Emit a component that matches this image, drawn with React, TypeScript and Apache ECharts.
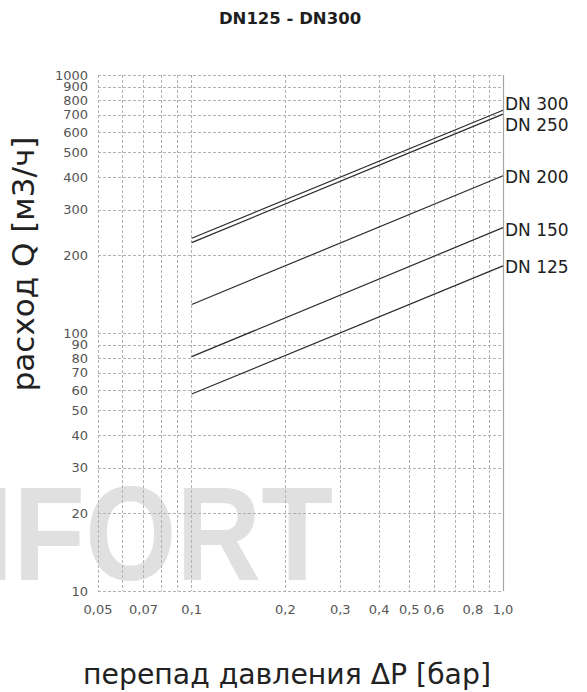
import React, { useEffect, useRef } from "react";
import * as echarts from "echarts";

// ---- data ----
const seriesNames = ["DN 300", "DN 250", "DN 200", "DN 150", "DN 125"];
const pressureDrop = [0.1, 1.0];
const flowDN300 = [233, 730];
const flowDN250 = [224, 705];
const flowDN200 = [129, 407];
const flowDN150 = [81, 256];
const flowDN125 = [58, 182];
const allFlows = [flowDN300, flowDN250, flowDN200, flowDN150, flowDN125];

const xGridValues = [0.05, 0.06, 0.07, 0.08, 0.09, 0.1, 0.2, 0.3, 0.4, 0.5, 0.6, 0.7, 0.8, 0.9, 1.0];
const xTickValues = [0.05, 0.07, 0.1, 0.2, 0.3, 0.4, 0.5, 0.6, 0.8, 1.0];
const xTickLabels = ["0,05", "0,07", "0,1", "0,2", "0,3", "0,4", "0,5", "0,6", "0,8", "1,0"];
const yTickValues = [10, 20, 30, 40, 50, 60, 70, 80, 90, 100, 200, 300, 400, 500, 600, 700, 800, 900, 1000];

const titleText = "DN125 - DN300";
const xName = "перепад давления ΔP [бар]";
const yName = "расход Q [м3/ч]";
const watermark = "COMFORT";

// label nudges (style only)
const endLabelOffsets = [[0, -6], [0, 11], [0, 1], [0, 2], [0, 1]];

const gridLine = { color: "#b8b0b0", width: 1, type: [3, 2] as number[] };

export default function App() {
  const ref = useRef<HTMLDivElement>(null);
  useEffect(() => {
    document.body.style.margin = "0";
    const chart = echarts.init(ref.current!, undefined, { renderer: "svg" });
    const series: any[] = allFlows.map((vals, si) => ({
      type: "line",
      name: seriesNames[si],
      data: pressureDrop.map((x, i) => [x, vals[i]]),
      showSymbol: false,
      symbol: "none",
      lineStyle: { color: "#2b2b2b", width: 1.2 },
      z: 5,
      endLabel: {
        show: true,
        formatter: seriesNames[si],
        color: "#1e1e1e",
        fontSize: 17,
        fontFamily: "DejaVu Sans",
        distance: 2,
        offset: endLabelOffsets[si],
      },
    }));
    series[0].markLine = {
      silent: true,
      symbol: "none",
      label: { show: false },
      lineStyle: { color: "#a9a3a3", width: 1.2, type: "solid" },
      data: [{ xAxis: xGridValues[xGridValues.length - 1] }],
    };

    const yMax = yTickValues[yTickValues.length - 1];
    // labels split over two overlaid axes so that close neighbours are never hidden
    const yLabelsA = yTickValues.filter((_, i) => i % 2 === 0);
    const yLabelsB = yTickValues.filter((_, i) => i % 2 === 1);
    const yLabelStyle = {
      showMinLabel: true,
      showMaxLabel: true,
      margin: 10,
      color: "#555",
      fontSize: 13,
      fontFamily: "DejaVu Sans",
      formatter: (v: number) => String(Math.round(v)),
    };

    chart.setOption({
      animation: false,
      backgroundColor: "#ffffff",
      grid: { left: 98, right: 84, top: 75, bottom: 101 },
      xAxis: {
        type: "log",
        logBase: 10,
        min: xGridValues[0],
        max: xGridValues[xGridValues.length - 1],
        axisLine: { show: false },
        axisTick: { show: false, customValues: xGridValues },
        splitLine: { show: true, lineStyle: gridLine },
        minorSplitLine: { show: false },
        axisLabel: {
          customValues: xTickValues,
          showMinLabel: true,
          showMaxLabel: true,
          margin: 12,
          color: "#555",
          fontSize: 13,
          fontFamily: "DejaVu Sans",
          formatter: (v: number) => {
            const i = xTickValues.findIndex((t) => Math.abs(t - v) < 1e-6);
            return i >= 0 ? xTickLabels[i] : "";
          },
        },
      },
      yAxis: [
        {
          type: "log",
          logBase: 10,
          position: "left",
          min: yTickValues[0],
          max: yMax * 1.000001,
          axisLine: { show: false },
          axisTick: { show: false, customValues: yTickValues },
          splitLine: { show: true, lineStyle: gridLine },
          axisLabel: { ...yLabelStyle, customValues: yLabelsA },
        },
        {
          type: "log",
          logBase: 10,
          position: "left",
          offset: 0,
          min: yTickValues[0],
          max: yMax * 1.000001,
          axisLine: { show: false },
          axisTick: { show: false, customValues: yLabelsB },
          splitLine: { show: false },
          axisLabel: { ...yLabelStyle, customValues: yLabelsB },
        },
      ],
      graphic: [
        {
          type: "text",
          z: -10,
          silent: true,
          x: 333,
          y: 534,
          scaleX: 0.877,
          style: {
            text: watermark,
            x: 0,
            y: 0,
            textAlign: "right",
            textVerticalAlign: "middle",
            fill: "#e0e0e0",
            font: "bold 134px 'Liberation Sans'",
          },
        },
        {
          type: "text",
          style: {
            text: titleText,
            x: 290,
            y: 18,
            textAlign: "center",
            textVerticalAlign: "middle",
            fill: "#1e1e1e",
            font: "bold 16.5px 'DejaVu Sans'",
          },
        },
        {
          type: "text",
          style: {
            text: xName,
            x: 287,
            y: 674,
            textAlign: "center",
            textVerticalAlign: "middle",
            fill: "#222",
            font: "28.3px 'DejaVu Sans'",
          },
        },
        {
          type: "text",
          x: 23,
          y: 264,
          rotation: Math.PI / 2,
          style: {
            text: yName,
            x: 0,
            y: 0,
            textAlign: "center",
            textVerticalAlign: "middle",
            fill: "#222",
            font: "31px 'DejaVu Sans'",
          },
        },
      ],
      series,
    });
    return () => chart.dispose();
  }, []);
  return (
    <div
      ref={ref}
      style={{ position: "absolute", left: 0, top: 0, width: 587, height: 692 }}
    />
  );
}
